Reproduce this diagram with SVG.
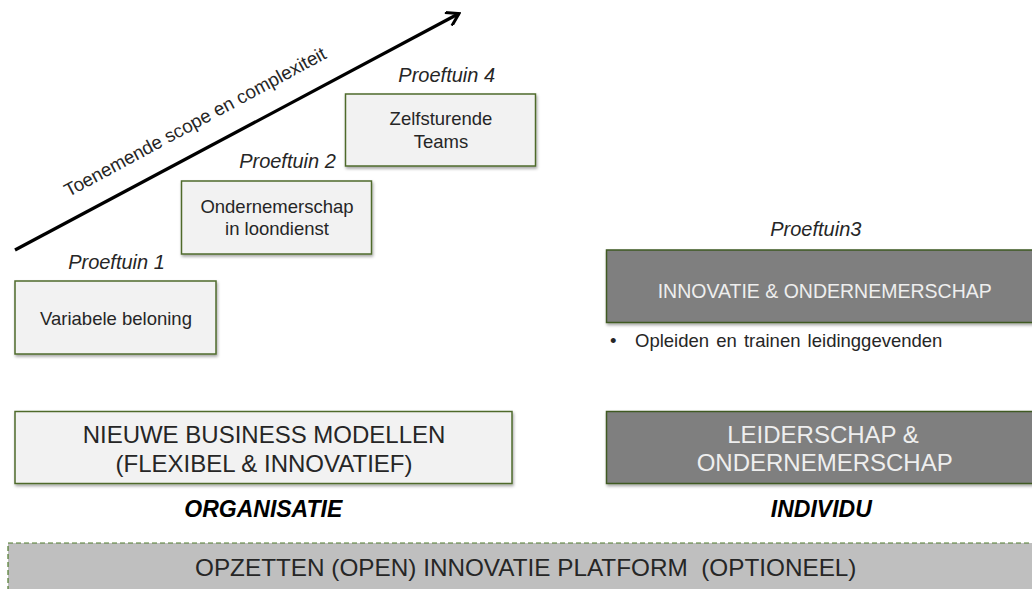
<svg xmlns="http://www.w3.org/2000/svg" width="1032" height="589" viewBox="0 0 1032 589">
<style>
text{font-family:"Liberation Sans",Arial,sans-serif;fill:#262626}
.lbox{fill:#f2f2f2;stroke:#4f6b2c;stroke-width:1.5}
.dbox{fill:#7f7f7f;stroke:#3f5a22;stroke-width:1.5}
.t18{font-size:18.5px;text-anchor:middle}
.pt{font-size:20px;font-style:italic;text-anchor:middle}
.big{font-size:24px;text-anchor:middle}
.light{fill:#eeeeee}
.cat{font-size:23px;font-weight:bold;font-style:italic;text-anchor:middle;fill:#000}
</style>
<defs>
<filter id="sh" x="-5%" y="-10%" width="115%" height="130%">
<feDropShadow dx="1" dy="2" stdDeviation="1.5" flood-color="#000" flood-opacity="0.35"/>
</filter>
<marker id="arr" viewBox="0 0 16 16" refX="14" refY="8" markerWidth="16" markerHeight="16" markerUnits="userSpaceOnUse" orient="auto">
<path d="M2,0.5 L14,8 L2,15.5" fill="none" stroke="#000" stroke-width="3"/>
</marker>
</defs>

<g id="connectors">
<line x1="15" y1="250" x2="459" y2="13.5" stroke="#000" stroke-width="3.2" marker-end="url(#arr)"/>
<text transform="translate(198,127.5) rotate(-28.3)" class="t18" style="font-size:18.8px">Toenemende scope en complexiteit</text>
</g>

<g id="proeftuin1">
<text x="116.5" y="269" class="pt">Proeftuin 1</text>
<rect x="15" y="281" width="201" height="73" class="lbox" filter="url(#sh)"/>
<text x="116" y="325" class="t18">Variabele beloning</text>
</g>

<g id="proeftuin2">
<text x="287.5" y="168" class="pt">Proeftuin 2</text>
<rect x="181.5" y="181" width="190" height="73" class="lbox" filter="url(#sh)"/>
<text x="277" y="212.7" class="t18">Ondernemerschap</text>
<text x="277" y="235.2" class="t18">in loondienst</text>
</g>

<g id="proeftuin4">
<text x="446.7" y="82" class="pt">Proeftuin 4</text>
<rect x="345.5" y="94" width="190" height="72" class="lbox" filter="url(#sh)"/>
<text x="441" y="125" class="t18">Zelfsturende</text>
<text x="441" y="147.7" class="t18">Teams</text>
</g>

<g id="proeftuin3">
<text x="815.8" y="236" class="pt">Proeftuin3</text>
<rect x="606.5" y="250" width="440" height="72.5" class="dbox" filter="url(#sh)"/>
<text x="824.7" y="298.3" class="t18 light" style="font-size:19.5px">INNOVATIE &amp; ONDERNEMERSCHAP</text>
<text x="610" y="346.7" font-size="18.5">•</text>
<text x="635" y="346.7" font-size="18.5" word-spacing="2">Opleiden en trainen leidinggevenden</text>
</g>

<g id="organisatie">
<rect x="15" y="411.5" width="497" height="72" class="lbox" filter="url(#sh)"/>
<text x="264" y="442.7" class="big">NIEUWE BUSINESS MODELLEN</text>
<text x="264" y="471.7" class="big">(FLEXIBEL &amp; INNOVATIEF)</text>
<text x="263.3" y="516.7" class="cat">ORGANISATIE</text>
</g>

<g id="individu">
<rect x="606.5" y="411.5" width="440" height="72" class="dbox" filter="url(#sh)"/>
<text x="823" y="442.7" class="big light">LEIDERSCHAP &amp;</text>
<text x="824.7" y="471" class="big light">ONDERNEMERSCHAP</text>
<text x="821.3" y="516.7" class="cat">INDIVIDU</text>
</g>

<g id="platform">
<rect x="8" y="543" width="1040" height="60" fill="#bfbfbf" stroke="#4f7a2c" stroke-width="1.2" stroke-dasharray="5,3"/>
<text x="195" y="576" font-size="24.3" xml:space="preserve">OPZETTEN (OPEN) INNOVATIE PLATFORM  (OPTIONEEL)</text>
</g>
</svg>
